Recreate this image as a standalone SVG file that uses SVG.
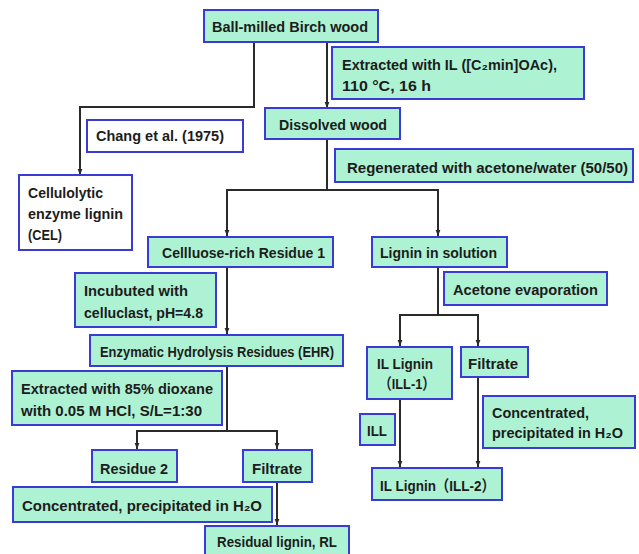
<svg xmlns="http://www.w3.org/2000/svg" width="639" height="554" viewBox="0 0 639 554">
<style>
.b{fill:#aef2d4;stroke:#3a3ad6;stroke-width:2}
.w{fill:#ffffff;stroke:#3a3ad6;stroke-width:2}
text{font-family:"Liberation Sans","DejaVu Sans","Noto Sans CJK SC",sans-serif;font-weight:bold;font-size:15.5px;fill:#1c1c1c}
.c{fill:none;stroke:#2a2a2a;stroke-width:2}
</style>
<defs>
<marker id="a" viewBox="0 0 10 10" refX="10" refY="5" markerWidth="3" markerHeight="3" orient="auto" markerUnits="strokeWidth">
<path d="M0,1 L10,5 L0,9 Z" fill="#2a2a2a"/>
</marker>
</defs>
<g id="connectors">
<path class="c" d="M327,42 V108" marker-end="url(#a)"/>
<path class="c" d="M254,42 V107 H80 V175" marker-end="url(#a)"/>
<path class="c" d="M327,139 V190 H227 V236" marker-end="url(#a)"/>
<path class="c" d="M327,190 H438 V236" marker-end="url(#a)"/>
<path class="c" d="M227,267 V334" marker-end="url(#a)"/>
<path class="c" d="M227,366 V431 H137 V449" marker-end="url(#a)"/>
<path class="c" d="M227,431 H277 V449" marker-end="url(#a)"/>
<path class="c" d="M277,482 V525" marker-end="url(#a)"/>
<path class="c" d="M438,267 V315 H400 V346" marker-end="url(#a)"/>
<path class="c" d="M438,315 H478 V346" marker-end="url(#a)"/>
<path class="c" d="M400,399 V467" marker-end="url(#a)"/>
<path class="c" d="M478,377 V467" marker-end="url(#a)"/>
</g>
<g id="ball-milled">
<rect class="b" x="204" y="10" width="174" height="32"/>
<text x="212" y="31.5" textLength="156" lengthAdjust="spacingAndGlyphs">Ball-milled Birch wood</text>
</g>
<g id="extracted-il">
<rect class="b" x="332" y="47" width="252" height="52"/>
<text x="342" y="70" textLength="215" lengthAdjust="spacingAndGlyphs">Extracted with IL ([C₂min]OAc),</text>
<text x="342" y="91" textLength="89" lengthAdjust="spacingAndGlyphs">110 °C, 16 h</text>
</g>
<g id="dissolved">
<rect class="b" x="265" y="108" width="135" height="31"/>
<text x="279" y="129.5" textLength="108" lengthAdjust="spacingAndGlyphs">Dissolved wood</text>
</g>
<g id="chang">
<rect class="w" x="87" y="120" width="156" height="32"/>
<text x="96" y="141" textLength="128" lengthAdjust="spacingAndGlyphs">Chang et al. (1975)</text>
</g>
<g id="cel">
<rect class="w" x="19" y="175" width="113" height="75"/>
<text x="28" y="197.5" textLength="75" lengthAdjust="spacingAndGlyphs">Cellulolytic</text>
<text x="28" y="218.5" textLength="95" lengthAdjust="spacingAndGlyphs">enzyme lignin</text>
<text x="28" y="240" textLength="34" lengthAdjust="spacingAndGlyphs">(CEL)</text>
</g>
<g id="regenerated">
<rect class="b" x="335" y="149" width="298" height="33"/>
<text x="347" y="172.5" textLength="281" lengthAdjust="spacingAndGlyphs">Regenerated with acetone/water (50/50)</text>
</g>
<g id="residue1">
<rect class="b" x="148" y="237" width="185" height="30"/>
<text x="162" y="257.5" textLength="163" lengthAdjust="spacingAndGlyphs">Cellluose-rich Residue 1</text>
</g>
<g id="lignin-solution">
<rect class="b" x="372" y="237" width="135" height="30"/>
<text x="380" y="258" textLength="117" lengthAdjust="spacingAndGlyphs">Lignin in solution</text>
</g>
<g id="acetone-evap">
<rect class="b" x="444" y="272" width="163" height="33"/>
<text x="453" y="294.5" textLength="145" lengthAdjust="spacingAndGlyphs">Acetone evaporation</text>
</g>
<g id="incubated">
<rect class="b" x="75" y="273" width="141" height="54"/>
<text x="84" y="295.5" textLength="104" lengthAdjust="spacingAndGlyphs">Incubuted with</text>
<text x="84" y="317.5" textLength="119" lengthAdjust="spacingAndGlyphs">celluclast, pH=4.8</text>
</g>
<g id="ehr">
<rect class="b" x="90" y="335" width="253" height="31"/>
<text x="100" y="356.5" textLength="234" lengthAdjust="spacingAndGlyphs">Enzymatic Hydrolysis Residues (EHR)</text>
</g>
<g id="extracted-dioxane">
<rect class="b" x="12" y="371" width="210" height="54"/>
<text x="21" y="393.5" textLength="192" lengthAdjust="spacingAndGlyphs">Extracted with 85% dioxane</text>
<text x="21" y="415.5" textLength="181" lengthAdjust="spacingAndGlyphs">with 0.05 M HCl, S/L=1:30</text>
</g>
<g id="residue2">
<rect class="b" x="92" y="450" width="85" height="32"/>
<text x="100" y="473.5" textLength="68" lengthAdjust="spacingAndGlyphs">Residue 2</text>
</g>
<g id="filtrate-left">
<rect class="b" x="243" y="450" width="69" height="32"/>
<text x="252" y="473.5" textLength="50" lengthAdjust="spacingAndGlyphs">Filtrate</text>
</g>
<g id="concentrated-left">
<rect class="b" x="13" y="487" width="259" height="35"/>
<text x="22" y="510.5" textLength="240" lengthAdjust="spacingAndGlyphs">Concentrated, precipitated in H₂O</text>
</g>
<g id="residual-lignin">
<rect class="b" x="205" y="526" width="144" height="34"/>
<text x="217" y="546.5" textLength="120" lengthAdjust="spacingAndGlyphs">Residual lignin, RL</text>
</g>
<g id="ill1">
<rect class="b" x="367" y="347" width="85" height="52"/>
<text x="377" y="368.5" textLength="56" lengthAdjust="spacingAndGlyphs">IL Lignin</text>
<text x="379" y="389" textLength="56" lengthAdjust="spacingAndGlyphs">（ILL-1）</text>
</g>
<g id="filtrate-right">
<rect class="b" x="461" y="347" width="67" height="30"/>
<text x="468" y="368.5" textLength="50" lengthAdjust="spacingAndGlyphs">Filtrate</text>
</g>
<g id="ill">
<rect class="b" x="360" y="414" width="35" height="31"/>
<text x="367" y="435.5" textLength="20" lengthAdjust="spacingAndGlyphs">ILL</text>
</g>
<g id="concentrated-right">
<rect class="b" x="483" y="396" width="152" height="52"/>
<text x="492" y="417.5" textLength="97" lengthAdjust="spacingAndGlyphs">Concentrated,</text>
<text x="492" y="437.5" textLength="131" lengthAdjust="spacingAndGlyphs">precipitated in H₂O</text>
</g>
<g id="ill2">
<rect class="b" x="372" y="468" width="130" height="32"/>
<text x="380" y="490.5" textLength="115" lengthAdjust="spacingAndGlyphs">IL Lignin（ILL-2）</text>
</g>
</svg>
